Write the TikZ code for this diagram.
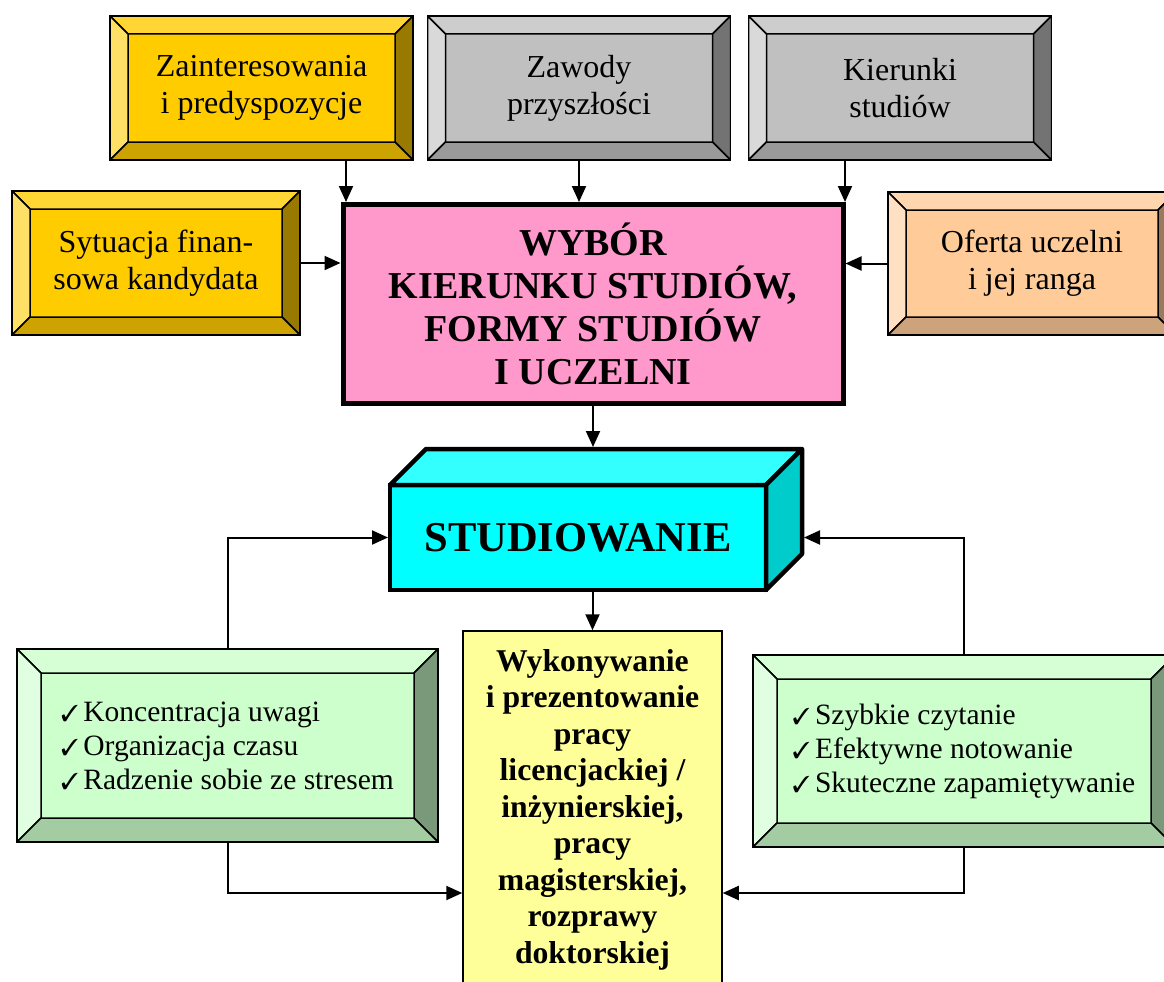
\documentclass[tikz,border=0pt]{standalone}
\usepackage{fontspec}
\setmainfont{Liberation Serif}
\usepackage{pifont}
\usetikzlibrary{arrows.meta}

\definecolor{gold}{HTML}{FFCC00}
\definecolor{goldT}{HTML}{FFD633}
\definecolor{goldL}{HTML}{FFE066}
\definecolor{goldR}{HTML}{997A00}
\definecolor{goldB}{HTML}{CCA300}
\definecolor{silver}{HTML}{C0C0C0}
\definecolor{silverT}{HTML}{CDCDCD}
\definecolor{silverL}{HTML}{D9D9D9}
\definecolor{silverR}{HTML}{737373}
\definecolor{silverB}{HTML}{9A9A9A}
\definecolor{peach}{HTML}{FFCC99}
\definecolor{peachT}{HTML}{FFD6AD}
\definecolor{peachL}{HTML}{FFE0C2}
\definecolor{peachR}{HTML}{997A5C}
\definecolor{peachB}{HTML}{CCA37A}
\definecolor{mint}{HTML}{CCFFCC}
\definecolor{mintT}{HTML}{D6FFD6}
\definecolor{mintL}{HTML}{E0FFE0}
\definecolor{mintR}{HTML}{7A997A}
\definecolor{mintB}{HTML}{A3CCA3}
\definecolor{cyanF}{HTML}{00FFFF}
\definecolor{cyanT}{HTML}{33FFFF}
\definecolor{cyanS}{HTML}{00CCCC}
\definecolor{pinkF}{HTML}{FF99CC}
\definecolor{lemon}{HTML}{FFFF99}

\newcommand{\chk}{{\fontsize{23}{23}\selectfont\ding{51}}\,}

\tikzset{
  bv/.store in=\bv, bv=18pt,
  bevel/.style={draw=black, line width=1.5pt, fill=#1, inner sep=0pt, align=center,
    font=\fontsize{32}{37}\selectfont,
    path picture={
      \path (path picture bounding box.north west) coordinate (bNW)
            (path picture bounding box.north east) coordinate (bNE)
            (path picture bounding box.south west) coordinate (bSW)
            (path picture bounding box.south east) coordinate (bSE);
      \filldraw[fill=#1T, line width=1.5pt] (bNW) -- (bNE) -- ([shift={(-\bv,-\bv)}]bNE) -- ([shift={(\bv,-\bv)}]bNW) -- cycle;
      \filldraw[fill=#1L, line width=1.5pt] (bNW) -- ([shift={(\bv,-\bv)}]bNW) -- ([shift={(\bv,\bv)}]bSW) -- (bSW) -- cycle;
      \filldraw[fill=#1R, line width=1.5pt] (bNE) -- (bSE) -- ([shift={(-\bv,\bv)}]bSE) -- ([shift={(-\bv,-\bv)}]bNE) -- cycle;
      \filldraw[fill=#1B, line width=1.5pt] (bSW) -- (bSE) -- ([shift={(-\bv,\bv)}]bSE) -- ([shift={(\bv,\bv)}]bSW) -- cycle;
    }},
  arr/.style={-{Triangle[length=16pt,width=14pt]}, line width=2pt},
}

\begin{document}
\begin{tikzpicture}[x=1pt, y=-1pt]

\useasboundingbox (0,0) rectangle (1164,982);
\clip (0,0) rectangle (1164,982);

% what influences the choice
\node (zain) at (261.5, 88) [bevel=gold, minimum width=303pt, minimum height=144pt] {Zainteresowania\\i predyspozycje};
\node (zawody) at (579, 88) [bevel=silver, minimum width=303pt, minimum height=144pt] {Zawody\\przyszłości};
\node (kier) at (900, 88) [bevel=silver, minimum width=303pt, minimum height=144pt] {Kierunki\\studiów};
\node (syt) at (156, 263) [bevel=gold, minimum width=288pt, minimum height=144pt] {Sytuacja finan-\\sowa kandydata};
\node (oferta) at (1032, 263.5) [bevel=peach, minimum width=288pt, minimum height=143pt] {Oferta uczelni\\i jej ranga};

\node (wybor) at (593, 304) [draw, line width=5pt, fill=pinkF, minimum width=500pt, minimum height=199pt, align=center, font=\bfseries\fontsize{38}{43}\selectfont] {WYBÓR\\KIERUNKU STUDIÓW,\\FORMY STUDIÓW\\I UCZELNI};

% the block
\node (stud) at (578, 537.5) [draw, line width=4.5pt, outer sep=0pt, fill=cyanF, minimum width=376pt, minimum height=105pt, font=\bfseries\fontsize{42.5}{48}\selectfont] {STUDIOWANIE};
\filldraw[fill=cyanT, line width=4.5pt, line join=round] (stud.north west) -- ++(36pt,36pt) -- ([shift={(36pt,36pt)}]stud.north east) -- (stud.north east) -- cycle;
\filldraw[fill=cyanS, line width=4.5pt, line join=round] (stud.north east) -- ++(36pt,36pt) -- ([shift={(36pt,36pt)}]stud.south east) -- (stud.south east) -- cycle;
\coordinate (studtop) at ([yshift=36pt]stud.north);
\coordinate (studR) at ([xshift=36pt]stud.east);

\node (praca) at (592.5, 893) [draw, line width=1.5pt, fill=lemon, minimum width=259pt, minimum height=524pt] {};
\node (pracatxt) at ([yshift=-19pt]praca.north) [anchor=north, inner sep=0pt, align=center, font=\bfseries\fontsize{31.7}{36.5}\selectfont] {Wykonywanie\\i prezentowanie\\pracy\\licencjackiej /\\inżynierskiej,\\pracy\\magisterskiej,\\rozprawy\\doktorskiej};

\node (umysl) at (227.5, 745.5) [bevel=mint, bv=24pt, minimum width=421pt, minimum height=193pt, align=left, font=\fontsize{29.5}{34}\selectfont] {\chk Koncentracja uwagi\\\chk Organizacja czasu\\\chk Radzenie sobie ze stresem};
\node (techniki) at (964, 751) [bevel=mint, bv=24pt, minimum width=422pt, minimum height=192pt, align=left, font=\fontsize{29.5}{34}\selectfont] {\chk Szybkie czytanie\\\chk Efektywne notowanie\\\chk Skuteczne zapamiętywanie};

% arrows
\draw[arr] ([xshift=84.5pt]zain.south) -- ([xshift=84.5pt]zain.south |- wybor.north);
\draw[arr] (zawody.south) -- (zawody.south |- wybor.north);
\draw[arr] ([xshift=-55pt]kier.south) -- ([xshift=-55pt]kier.south |- wybor.north);
\draw[arr] (syt.east) -- (syt.east -| wybor.west);
\draw[arr] (oferta.west) -- (oferta.west -| wybor.east);
\draw[arr, shorten >=2pt] (wybor.south) -- (wybor.south |- studtop);
\draw[arr, shorten >=2pt] (umysl.north) |- (stud.west);
\draw[arr, shorten >=2pt] (techniki.north) |- (studR);
\draw[arr] (stud.south -| praca.north) -- (praca.north);
\draw[arr] (umysl.south) |- (praca.west);
\draw[arr] (techniki.south) |- (praca.east);

\end{tikzpicture}
\end{document}
